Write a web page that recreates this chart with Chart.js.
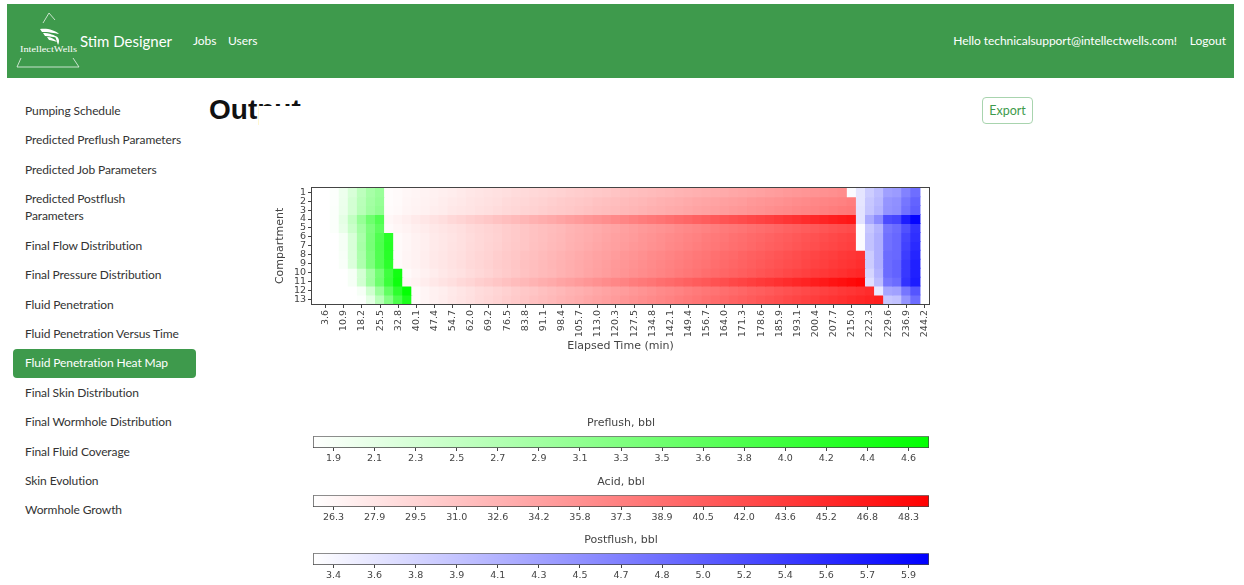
<!DOCTYPE html>
<html>
<head>
<meta charset="utf-8">
<title>Fluid Penetration Heat Map</title>
<script src="https://cdn.jsdelivr.net/npm/chart.js@4.4.1/dist/chart.umd.min.js"></script>
<style>
  html, body { margin: 0; padding: 0; }
  body { width: 1244px; height: 585px; overflow: hidden; position: relative; background: #fff;
         font-family: Lato, 'Open Sans', sans-serif; color: #333; }
  .navbar { position: absolute; left: 7px; top: 4px; width: 1227px; height: 74px; background: #3e9a4c; }
  .navbar span { position: absolute; color: #fff; white-space: nowrap; line-height: 20px; }
  .brand { left: 73px; top: 27px; font-size: 15px; }
  .navlink { top: 27px; font-size: 12px; letter-spacing: -0.05px; }
  .logo { position: absolute; left: 0; top: 0; }
  .side { position: absolute; left: 25px; font-size: 12px; letter-spacing: -0.1px; line-height: 17px; white-space: nowrap; color: #333; }
  .active-bg { position: absolute; left: 13px; top: 349px; width: 183px; height: 29px; border-radius: 4px; background: #3e9a4c; }
  .side.active { color: #fff; }
  h1 { position: absolute; left: 209px; top: 96px; margin: 0; font: bold 28px 'Liberation Sans', Arial, sans-serif; line-height: 28px; color: #111; }
  .cover { position: absolute; left: 259px; top: 106px; width: 60px; height: 24px; background: #fff; }
  .export { position: absolute; left: 982px; top: 97px; width: 49px; height: 25px; border: 1px solid #a8d4ae;
            border-radius: 4px; color: #3e9a4c; font-size: 12.5px; line-height: 25px; text-align: center; }
  canvas { position: absolute; }
</style>
</head>
<body>
<div class="navbar">
  <span class="brand">Stim Designer</span>
  <span class="navlink" style="left:186px">Jobs</span>
  <span class="navlink" style="left:221px">Users</span>
  <span class="navlink" style="right:57px">Hello technicalsupport@intellectwells.com!</span>
  <span class="navlink" style="right:8px">Logout</span>
</div>
<svg class="logo" width="100" height="80">
  <g stroke="#fff" stroke-width="0.8" fill="none" opacity="0.9">
    <path d="M49 13 L43 23 M49 13 L55 20"/>
    <path d="M21 58 L17 67 L79 67 L73 58"/>
  </g>
  <g fill="#fff">
    <path d="M40 29 C47 28 55 30 59 34 C55 33 48 32 42 32 Z"/>
    <path d="M43 33 C49 33 55 35 58 38 C54 37 49 36 45 36 Z"/>
    <path d="M47 37 C51 37 55 39 57 42 C54 41 51 40 49 40 Z"/>
    <path d="M55 36 C59 37 60 41 58 45 C57 42 56 39 55 36 Z"/>
  </g>
  <text x="20" y="52" fill="#fff" font-family="'Liberation Serif', 'DejaVu Serif', serif" font-size="9" textLength="57" lengthAdjust="spacingAndGlyphs">IntellectWells</text>
</svg>

<div class="active-bg"></div>
<div id="sidebar"></div>

<h1>Output</h1>
<div class="cover"></div>
<div class="export">Export</div>

<canvas id="heatmap" width="682" height="177" style="left:270px; top:180px;"></canvas>
<canvas id="barPreflush" width="682" height="58" style="left:270px; top:414px;"></canvas>
<canvas id="barAcid" width="682" height="58" style="left:270px; top:473px;"></canvas>
<canvas id="barPostflush" width="682" height="58" style="left:270px; top:531px;"></canvas>

<script>
const menuItems = ['Pumping Schedule', 'Predicted Preflush Parameters', 'Predicted Job Parameters',
  'Predicted Postflush<br>Parameters', 'Final Flow Distribution', 'Final Pressure Distribution',
  'Fluid Penetration', 'Fluid Penetration Versus Time', 'Fluid Penetration Heat Map',
  'Final Skin Distribution', 'Final Wormhole Distribution', 'Final Fluid Coverage',
  'Skin Evolution', 'Wormhole Growth'];
const menuTops = [102, 131, 161, 190, 237, 266, 296, 325, 354, 384, 413, 443, 472, 501];

// elapsed time of each heat map column (min)
const times = [0.0, 3.6, 7.3, 10.9, 14.6, 18.2, 21.9, 25.5, 29.2, 32.8,
  36.5, 40.1, 43.7, 47.4, 51.0, 54.7, 58.3, 62.0, 65.6, 69.2,
  72.9, 76.5, 80.2, 83.8, 87.5, 91.1, 94.8, 98.4, 102.1, 105.7,
  109.3, 113.0, 116.6, 120.3, 123.9, 127.5, 131.2, 134.8, 138.5, 142.1,
  145.8, 149.4, 153.1, 156.7, 160.4, 164.0, 167.6, 171.3, 174.9, 178.6,
  182.2, 185.9, 189.5, 193.1, 196.8, 200.4, 204.1, 207.7, 211.4, 215.0,
  218.7, 222.3, 225.9, 229.6, 233.2, 236.9, 240.5, 244.2];
const compartments = ['1', '2', '3', '4', '5', '6', '7', '8', '9', '10', '11', '12', '13'];

// column index where preflush first reaches each compartment
const preflushStart = [2, 2, 2, 2, 2, 3, 3, 3, 3, 4, 4, 5, 5];

// preflush, bbl
const preflush = [
  [1.83, 2.0, 2.25, 2.55, 2.8, 2.95],
  [1.83, 2.02, 2.3, 2.6, 2.85, 3.0],
  [1.84, 2.03, 2.3, 2.62, 2.88, 3.05],
  [1.85, 2.1, 2.5, 3.0, 3.45, 3.8],
  [1.85, 2.05, 2.4, 2.85, 3.3, 3.65],
  [1.9, 2.25, 2.77, 3.34, 3.8, 4.25],
  [1.9, 2.25, 2.8, 3.35, 3.82, 4.28],
  [1.88, 2.22, 2.75, 3.3, 3.8, 4.25],
  [1.87, 2.2, 2.72, 3.28, 3.78, 4.22],
  [1.9, 2.3, 2.85, 3.4, 4.0, 4.5],
  [1.9, 2.32, 2.88, 3.45, 4.05, 4.55],
  [1.9, 2.35, 2.95, 3.6, 4.2, 4.68],
  [1.82, 2.1, 2.6, 3.2, 3.85, 4.4]
];

// acid, bbl
const acid = [
  [25.8, 26.0, 26.2, 26.4, 26.6, 26.8, 27.0, 27.2, 27.4, 27.7,
   27.9, 28.1, 28.3, 28.5, 28.7, 28.9, 29.1, 29.3, 29.5, 29.7,
   29.9, 30.1, 30.3, 30.5, 30.7, 31.0, 31.2, 31.4, 31.6, 31.8,
   32.0, 32.2, 32.4, 32.6, 32.8, 33.0, 33.2, 33.4, 33.6, 33.8,
   34.0, 34.2, 34.5, 34.7, 34.9, 35.1, 35.3, 35.5, 35.7, 35.9,
   36.1],
  [25.8, 26.0, 26.3, 26.5, 26.7, 26.9, 27.2, 27.4, 27.6, 27.9,
   28.1, 28.3, 28.5, 28.8, 29.0, 29.2, 29.5, 29.7, 29.9, 30.2,
   30.4, 30.6, 30.8, 31.1, 31.3, 31.5, 31.8, 32.0, 32.2, 32.4,
   32.7, 32.9, 33.1, 33.4, 33.6, 33.8, 34.0, 34.3, 34.5, 34.7,
   35.0, 35.2, 35.4, 35.6, 35.9, 36.1, 36.3, 36.6, 36.8, 37.0,
   37.2, 37.5],
  [25.9, 26.1, 26.4, 26.6, 26.8, 27.1, 27.3, 27.6, 27.8, 28.0,
   28.3, 28.5, 28.7, 29.0, 29.2, 29.5, 29.7, 29.9, 30.2, 30.4,
   30.6, 30.9, 31.1, 31.4, 31.6, 31.8, 32.1, 32.3, 32.5, 32.8,
   33.0, 33.3, 33.5, 33.7, 34.0, 34.2, 34.4, 34.7, 34.9, 35.1,
   35.4, 35.6, 35.9, 36.1, 36.3, 36.6, 36.8, 37.0, 37.3, 37.5,
   37.8, 38.0],
  [26.2, 26.6, 27.0, 27.4, 27.8, 28.2, 28.6, 29.1, 29.5, 29.9,
   30.3, 30.7, 31.1, 31.5, 31.9, 32.3, 32.7, 33.1, 33.5, 33.9,
   34.4, 34.8, 35.2, 35.6, 36.0, 36.4, 36.8, 37.2, 37.6, 38.0,
   38.4, 38.8, 39.3, 39.7, 40.1, 40.5, 40.9, 41.3, 41.7, 42.1,
   42.5, 42.9, 43.3, 43.7, 44.2, 44.6, 45.0, 45.4, 45.8, 46.2,
   46.6, 47.0],
  [26.0, 26.3, 26.6, 27.0, 27.3, 27.6, 27.9, 28.2, 28.5, 28.9,
   29.2, 29.5, 29.8, 30.1, 30.4, 30.8, 31.1, 31.4, 31.7, 32.0,
   32.4, 32.7, 33.0, 33.3, 33.6, 33.9, 34.3, 34.6, 34.9, 35.2,
   35.5, 35.8, 36.2, 36.5, 36.8, 37.1, 37.4, 37.8, 38.1, 38.4,
   38.7, 39.0, 39.3, 39.7, 40.0, 40.3, 40.6, 40.9, 41.2, 41.6,
   41.9, 42.2],
  [26.0, 26.3, 26.7, 27.0, 27.4, 27.7, 28.0, 28.4, 28.7, 29.1,
   29.4, 29.7, 30.1, 30.4, 30.8, 31.1, 31.4, 31.8, 32.1, 32.5,
   32.8, 33.1, 33.5, 33.8, 34.2, 34.5, 34.8, 35.2, 35.5, 35.9,
   36.2, 36.5, 36.9, 37.2, 37.6, 37.9, 38.2, 38.6, 38.9, 39.3,
   39.6, 39.9, 40.3, 40.6, 41.0, 41.3, 41.6, 42.0, 42.3, 42.7,
   43.0],
  [26.0, 26.3, 26.7, 27.0, 27.4, 27.7, 28.1, 28.4, 28.8, 29.1,
   29.5, 29.8, 30.2, 30.5, 30.8, 31.2, 31.5, 31.9, 32.2, 32.6,
   32.9, 33.3, 33.6, 34.0, 34.3, 34.7, 35.0, 35.3, 35.7, 36.0,
   36.4, 36.7, 37.1, 37.4, 37.8, 38.1, 38.5, 38.8, 39.1, 39.5,
   39.8, 40.2, 40.5, 40.9, 41.2, 41.6, 41.9, 42.3, 42.6, 43.0,
   43.3],
  [26.0, 26.4, 26.7, 27.1, 27.5, 27.8, 28.2, 28.5, 28.9, 29.3,
   29.6, 30.0, 30.4, 30.7, 31.1, 31.4, 31.8, 32.2, 32.5, 32.9,
   33.3, 33.6, 34.0, 34.3, 34.7, 35.1, 35.4, 35.8, 36.2, 36.5,
   36.9, 37.3, 37.6, 38.0, 38.3, 38.7, 39.1, 39.4, 39.8, 40.2,
   40.5, 40.9, 41.2, 41.6, 42.0, 42.3, 42.7, 43.1, 43.4, 43.8,
   44.1, 44.5],
  [26.0, 26.4, 26.7, 27.1, 27.5, 27.8, 28.2, 28.6, 29.0, 29.3,
   29.7, 30.1, 30.4, 30.8, 31.2, 31.5, 31.9, 32.3, 32.6, 33.0,
   33.4, 33.7, 34.1, 34.5, 34.9, 35.2, 35.6, 36.0, 36.3, 36.7,
   37.1, 37.4, 37.8, 38.2, 38.5, 38.9, 39.3, 39.7, 40.0, 40.4,
   40.8, 41.1, 41.5, 41.9, 42.2, 42.6, 43.0, 43.3, 43.7, 44.1,
   44.4, 44.8],
  [26.0, 26.4, 26.8, 27.2, 27.6, 28.0, 28.3, 28.7, 29.1, 29.5,
   29.9, 30.3, 30.7, 31.1, 31.5, 31.9, 32.2, 32.6, 33.0, 33.4,
   33.8, 34.2, 34.6, 35.0, 35.4, 35.8, 36.1, 36.5, 36.9, 37.3,
   37.7, 38.1, 38.5, 38.9, 39.3, 39.7, 40.0, 40.4, 40.8, 41.2,
   41.6, 42.0, 42.4, 42.8, 43.2, 43.6, 43.9, 44.3, 44.7, 45.1,
   45.5],
  [26.3, 26.7, 27.2, 27.6, 28.1, 28.5, 29.0, 29.4, 29.9, 30.3,
   30.8, 31.2, 31.7, 32.1, 32.5, 33.0, 33.4, 33.9, 34.3, 34.8,
   35.2, 35.7, 36.1, 36.6, 37.0, 37.5, 37.9, 38.3, 38.8, 39.2,
   39.7, 40.1, 40.6, 41.0, 41.5, 41.9, 42.4, 42.8, 43.3, 43.7,
   44.1, 44.6, 45.0, 45.5, 45.9, 46.4, 46.8, 47.3, 47.7, 48.2,
   48.6],
  [26.0, 26.4, 26.8, 27.1, 27.5, 27.9, 28.3, 28.7, 29.0, 29.4,
   29.8, 30.2, 30.6, 30.9, 31.3, 31.7, 32.1, 32.5, 32.8, 33.2,
   33.6, 34.0, 34.4, 34.7, 35.1, 35.5, 35.9, 36.3, 36.6, 37.0,
   37.4, 37.8, 38.2, 38.5, 38.9, 39.3, 39.7, 40.1, 40.4, 40.8,
   41.2, 41.6, 42.0, 42.3, 42.7, 43.1, 43.5, 43.9, 44.2, 44.6,
   45.0],
  [26.0, 26.4, 26.8, 27.2, 27.6, 28.0, 28.4, 28.8, 29.2, 29.6,
   30.0, 30.4, 30.8, 31.2, 31.6, 32.0, 32.4, 32.8, 33.2, 33.6,
   34.0, 34.4, 34.8, 35.2, 35.6, 36.0, 36.3, 36.7, 37.1, 37.5,
   37.9, 38.3, 38.7, 39.1, 39.5, 39.9, 40.3, 40.7, 41.1, 41.5,
   41.9, 42.3, 42.7, 43.1, 43.5, 43.9, 44.3, 44.7, 45.1, 45.5,
   45.9, 46.3]
];

// postflush, bbl
const postflush = [
  [3.35, 3.58, 3.84, 3.99, 4.31, 4.36, 4.62, 4.83],
  [3.58, 3.9, 4.05, 4.42, 4.48, 4.75, 4.95],
  [3.6, 3.92, 4.1, 4.45, 4.5, 4.8, 5.0],
  [3.6, 4.2, 4.52, 5.2, 5.27, 5.7, 5.95],
  [3.35, 3.9, 4.1, 4.75, 4.85, 5.15, 5.45],
  [3.35, 3.95, 4.15, 4.8, 4.9, 5.25, 5.5],
  [3.35, 3.95, 4.15, 4.8, 4.9, 5.3, 5.55],
  [3.85, 4.15, 4.85, 4.9, 5.35, 5.6],
  [3.85, 4.15, 4.85, 4.95, 5.4, 5.65],
  [3.75, 4.1, 4.85, 4.95, 5.4, 5.65],
  [3.65, 4.0, 4.75, 4.85, 5.45, 5.7],
  [3.55, 4.25, 4.3, 4.75, 5.1],
  [3.9, 3.95, 4.45, 4.85]
];

// colour bar ranges and tick labels
const preflushRange = [1.80, 4.71];
const acidRange = [25.5, 49.1];
const postflushRange = [3.31, 5.99];
const preflushTicks = ['1.9', '2.1', '2.3', '2.5', '2.7', '2.9', '3.1', '3.3', '3.5', '3.6', '3.8', '4.0', '4.2', '4.4', '4.6'];
const acidTicks = ['26.3', '27.9', '29.5', '31.0', '32.6', '34.2', '35.8', '37.3', '38.9', '40.5', '42.0', '43.6', '45.2', '46.8', '48.3'];
const postflushTicks = ['3.4', '3.6', '3.8', '3.9', '4.1', '4.3', '4.5', '4.7', '4.8', '5.0', '5.2', '5.4', '5.6', '5.7', '5.9'];

const GREEN = [0, 255, 0], RED = [255, 0, 0], BLUE = [0, 0, 255];
const AXIS_FONT = 'DejaVu Sans';

// sidebar
const sidebar = document.getElementById('sidebar');
menuItems.forEach((name, i) => {
  const item = document.createElement('div');
  item.className = 'side' + (name === 'Fluid Penetration Heat Map' ? ' active' : '');
  item.style.top = menuTops[i] + 'px';
  item.innerHTML = name;
  sidebar.appendChild(item);
});

function shade(rgb, range, v) {
  let t = (v - range[0]) / (range[1] - range[0]);
  t = Math.max(0, Math.min(1, t));
  const c = rgb.map(ch => Math.round(255 + (ch - 255) * t));
  return `rgb(${c[0]}, ${c[1]}, ${c[2]})`;
}

// colour of every cell, compartment by compartment
const cellColors = compartments.map((c, r) => {
  const colors = times.map(() => 'rgba(0,0,0,0)');
  let k = preflushStart[r];
  preflush[r].forEach(v => { colors[k++] = shade(GREEN, preflushRange, v); });
  acid[r].forEach(v => { colors[k++] = shade(RED, acidRange, v); });
  postflush[r].forEach(v => { colors[k++] = shade(BLUE, postflushRange, v); });
  return colors;
});

const frame = {
  id: 'frame',
  afterDatasetsDraw(chart) {
    const { ctx, chartArea: a } = chart;
    ctx.save();
    ctx.strokeStyle = '#444';
    ctx.lineWidth = 1;
    ctx.strokeRect(Math.round(a.left) - 0.5, Math.round(a.top) - 0.5,
      Math.round(a.right - a.left) + 1, Math.round(a.bottom - a.top) + 1);
    ctx.restore();
  }
};

// heat map: one stacked bar series per compartment, one unit tall
new Chart(document.getElementById('heatmap'), {
  type: 'bar',
  data: {
    labels: times.map(t => t.toFixed(1)),
    datasets: compartments.map((c, r) => ({
      label: c,
      data: times.map(() => 1),
      backgroundColor: cellColors[r],
      borderWidth: 0,
      inflateAmount: 0.5,
      barPercentage: 1,
      categoryPercentage: 1
    }))
  },
  options: {
    responsive: false,
    animation: false,
    layout: { padding: { top: 5, right: 23 } },
    plugins: { legend: { display: false }, tooltip: { enabled: false } },
    scales: {
      x: {
        stacked: true,
        border: { display: false },
        grid: {
          offset: false, drawOnChartArea: false, tickLength: 4,
          tickColor: ctx => (ctx.index % 2 ? '#444' : 'rgba(0,0,0,0)')
        },
        ticks: {
          autoSkip: false, minRotation: 90, maxRotation: 90, padding: 2, color: '#444',
          font: { family: AXIS_FONT, size: 9.5 },
          callback: (v, i) => (i % 2 ? times[i].toFixed(1) : '')
        },
        title: { display: true, text: 'Elapsed Time (min)', color: '#444',
          font: { family: AXIS_FONT, size: 11 }, padding: { top: 0, bottom: 4 } },
        afterFit: s => { s.height = 53; }
      },
      y: {
        stacked: true,
        reverse: true,
        min: 0,
        max: compartments.length,
        border: { display: false },
        afterBuildTicks: s => { s.ticks = compartments.map((c, i) => ({ value: i + 0.5 })); },
        grid: { drawOnChartArea: false, tickLength: 4, tickColor: '#444' },
        ticks: {
          autoSkip: false, padding: 2, color: '#444', font: { family: AXIS_FONT, size: 9.5 },
          callback: (v, i) => compartments[i]
        },
        title: { display: true, text: 'Compartment', color: '#444',
          font: { family: AXIS_FONT, size: 11 }, padding: { top: 4, bottom: 0 } },
        afterFit: s => { s.width = 42; }
      }
    }
  },
  plugins: [frame]
});

function colorBar(id, title, range, ticks, rgb) {
  new Chart(document.getElementById(id), {
    type: 'bar',
    data: {
      labels: [''],
      datasets: [{
        data: [range],
        backgroundColor: ctx => {
          const a = ctx.chart.chartArea;
          if (!a) return 'rgba(0,0,0,0)';
          const g = ctx.chart.ctx.createLinearGradient(a.left, 0, a.right, 0);
          g.addColorStop(0, shade(rgb, range, range[0]));
          g.addColorStop(1, shade(rgb, range, range[1]));
          return g;
        },
        borderColor: '#444',
        borderWidth: 1,
        borderSkipped: false,
        barPercentage: 1,
        categoryPercentage: 1
      }]
    },
    options: {
      indexAxis: 'y',
      responsive: false,
      animation: false,
      layout: { padding: { left: 43, right: 23 } },
      plugins: {
        legend: { display: false },
        tooltip: { enabled: false },
        title: { display: true, text: title, color: '#444',
          font: { family: AXIS_FONT, size: 11, weight: 'normal' }, padding: { top: 3, bottom: 6 } }
      },
      scales: {
        x: { type: 'linear', display: false, min: range[0], max: range[1] },
        y: { display: false },
        x2: {
          type: 'category', labels: ticks, position: 'bottom', offset: true,
          border: { display: false },
          grid: { drawOnChartArea: false, tickLength: 3, tickColor: '#444' },
          ticks: { autoSkip: false, maxRotation: 0, padding: 2, color: '#444',
            font: { family: AXIS_FONT, size: 9.5 } },
          afterFit: s => { s.height = 24; }
        }
      }
    }
  });
}

colorBar('barPreflush', 'Preflush, bbl', preflushRange, preflushTicks, GREEN);
colorBar('barAcid', 'Acid, bbl', acidRange, acidTicks, RED);
colorBar('barPostflush', 'Postflush, bbl', postflushRange, postflushTicks, BLUE);
</script>
</body>
</html>
